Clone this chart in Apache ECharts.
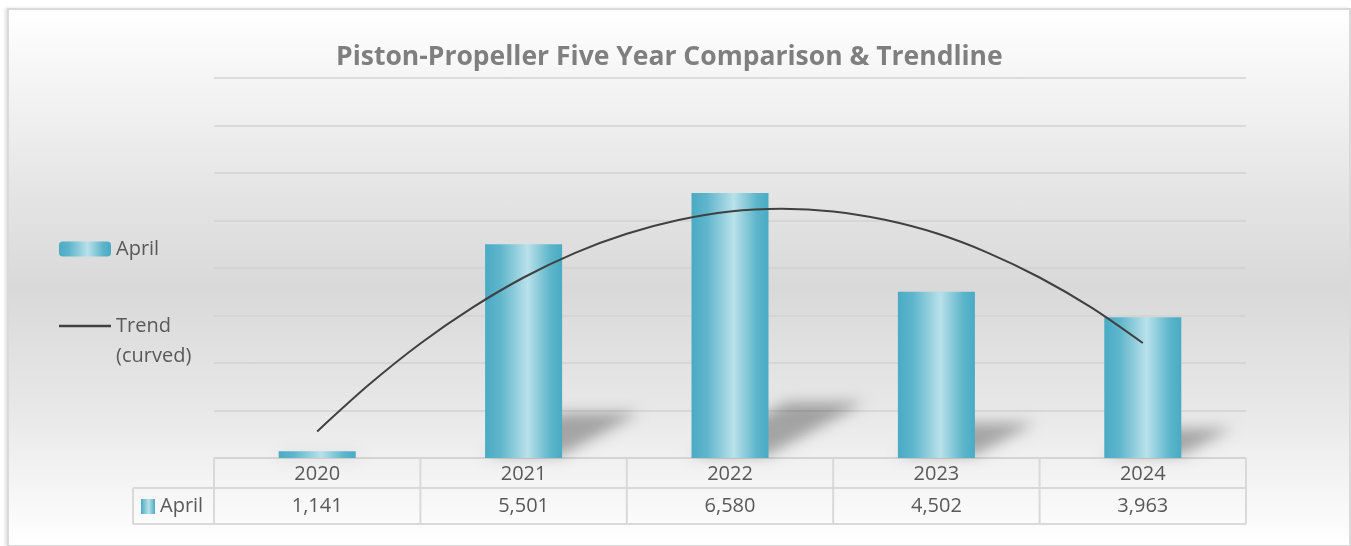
<!DOCTYPE html>
<html>
<head>
<meta charset="utf-8">
<script src="https://cdn.jsdelivr.net/npm/echarts@6/dist/echarts.min.js"></script>
<style>
  html, body { margin: 0; padding: 0; background: #ffffff; }
  .frame {
    position: absolute; left: 7px; top: 8px; width: 1340px; height: 535px;
    border: 2px solid #dadada;
    background: linear-gradient(to bottom, #ffffff 0%, #e4e4e4 35%, #d9d9d9 52%, #e8e8e8 75%, #ffffff 100%);
    box-shadow: -2px 0 3px rgba(0,0,0,0.12);
  }
  #chart { position: absolute; left: 0; top: 0; width: 1351px; height: 546px; }
</style>
</head>
<body>
<div class="frame"></div>
<div id="chart"></div>
<script>
const years = ['2020', '2021', '2022', '2023', '2024'];
const aprilValues = [1141, 5501, 6580, 4502, 3963];
// trendline (x: 1 = 2020 ... 5 = 2024)
const trendX = [1, 1.25, 1.5, 1.75, 2, 2.25, 2.5, 2.75, 3, 3.25, 3.5, 3.75, 4, 4.25, 4.5, 4.75, 5];
const trendValues = [1560, 2540, 3410, 4160, 4800, 5320, 5720, 6010, 6190, 6245, 6190, 6015, 5730, 5320, 4800, 4170, 3420];
const axisMin = 1000, axisMax = 9000, axisStep = 1000;

// plot / table layout (px)
const plotLeft = 214, plotRight = 1246, plotTop = 78, plotBottom = 458;
const rowMid = 488, tableBottom = 524, keyLeft = 133;
const textColor = '#595959';
const lineColor = '#d9d9d9';
const fontFamily = '"Open Sans", Lato, sans-serif';
const fontSize = 20;

const barGradient = new echarts.graphic.LinearGradient(0, 0, 1, 0, [
  { offset: 0, color: '#49abc4' },
  { offset: 0.2, color: '#5fb6cc' },
  { offset: 0.55, color: '#b9e1ea' },
  { offset: 0.85, color: '#5cb5cb' },
  { offset: 1, color: '#49abc4' }
]);

let chart = echarts.init(document.getElementById('chart'));

// table lines
let tableLines = [];
function hline(x1, x2, y) {
  tableLines.push({ type: 'line', shape: { x1: x1, y1: y, x2: x2, y2: y }, style: { stroke: lineColor, lineWidth: 2 }, silent: true });
}
function vline(x, y1, y2) {
  tableLines.push({ type: 'line', shape: { x1: x, y1: y1, x2: x, y2: y2 }, style: { stroke: lineColor, lineWidth: 2 }, silent: true });
}
hline(plotLeft, plotRight, plotBottom);
hline(keyLeft, plotRight, rowMid);
hline(keyLeft, plotRight, tableBottom);
vline(keyLeft, rowMid, tableBottom);
let catW = (plotRight - plotLeft) / years.length;
for (let i = 0; i <= years.length; i++) {
  vline(plotLeft + i * catW, plotBottom, tableBottom);
}
tableLines.push({
  type: 'rect', shape: { x: 141, y: 499, width: 14, height: 15 },
  style: { fill: new echarts.graphic.LinearGradient(0, 0, 1, 0, [
    { offset: 0, color: '#49abc4' }, { offset: 0.55, color: '#b9e1ea' }, { offset: 1, color: '#49abc4' }
  ]) }, silent: true
});
tableLines.push({
  type: 'text', x: 160, y: 506,
  style: { text: 'April', fill: textColor, fontSize: fontSize, fontFamily: fontFamily, verticalAlign: 'middle' },
  silent: true
});

let option = {
  animation: false,
  title: {
    text: 'Piston-Propeller Five Year Comparison & Trendline',
    left: 336,
    top: 44,
    padding: 0,
    textStyle: { color: '#7f7f7f', fontSize: 26.5, fontWeight: 'bold', fontFamily: fontFamily }
  },
  legend: [
    {
      data: ['April'],
      orient: 'vertical',
      left: 59, top: 239, padding: 0,
      itemWidth: 52, itemHeight: 15, itemGap: 0,
      textStyle: { color: textColor, fontSize: fontSize, fontFamily: fontFamily }
    },
    {
      data: [{ name: 'Trend (curved)', icon: 'rect' }],
      orient: 'vertical',
      left: 59, top: 281, padding: 0,
      itemWidth: 52, itemHeight: 2.5, itemGap: 0,
      formatter: name => ' \n' + name.replace(' ', '\n'),
      textStyle: { color: textColor, fontSize: fontSize, fontFamily: fontFamily, lineHeight: 30 }
    }
  ],
  grid: {
    left: plotLeft, right: 1351 - plotRight, top: plotTop, bottom: 546 - plotBottom
  },
  xAxis: [
    {
      type: 'category', data: years, position: 'bottom',
      axisLine: { show: false }, axisTick: { show: false },
      axisLabel: { color: textColor, fontSize: fontSize, fontFamily: fontFamily, margin: 6 }
    },
    {
      type: 'category', data: years, position: 'bottom', offset: 32,
      axisLine: { show: false }, axisTick: { show: false },
      axisLabel: {
        color: textColor, fontSize: fontSize, fontFamily: fontFamily, margin: 6,
        formatter: (val, idx) => aprilValues[idx].toLocaleString('en-US')
      }
    },
    {
      type: 'value', min: 0.5, max: 5.5, show: false
    }
  ],
  yAxis: {
    type: 'value', min: axisMin, max: axisMax, interval: axisStep,
    axisLabel: { show: false }, axisLine: { show: false }, axisTick: { show: false },
    splitLine: { lineStyle: { color: '#d2d2d2', width: 1.5 } }
  },
  graphic: tableLines,
  series: [
    {
      name: 'shadow',
      type: 'custom',
      z: 1,
      silent: true,
      clip: false,
      data: years.map((y, i) => [i, aprilValues[i]]),
      renderItem: function (params, api) {
        let top = api.coord([api.value(0), api.value(1)]);
        let base = api.coord([api.value(0), axisMin]);
        let h = base[1] - top[1];
        let xl = top[0] - 38.5, xr = top[0] + 38.5;
        let dx = 0.36 * h, dy = 0.21 * h;
        let off = 3000;
        // polygon drawn off-canvas, only its blurred shadow lands next to the bar
        return {
          type: 'polygon',
          shape: { points: [[xl + off, base[1] - 3], [xr + off, base[1] - 3], [xr + dx + off, base[1] - dy], [xl + dx + off, base[1] - dy]] },
          style: {
            fill: '#000',
            shadowBlur: 14, shadowColor: 'rgba(0,0,0,0.30)', shadowOffsetX: -off, shadowOffsetY: 0
          }
        };
      }
    },
    {
      name: 'April',
      type: 'bar',
      z: 2,
      barWidth: 77,
      data: aprilValues,
      itemStyle: { color: barGradient }
    },
    {
      name: 'Trend (curved)',
      type: 'line',
      xAxisIndex: 2,
      z: 3,
      smooth: 0.3,
      symbol: 'none',
      data: trendX.map((x, i) => [x, trendValues[i]]),
      lineStyle: { color: '#404040', width: 2 },
      itemStyle: { color: '#404040' }
    }
  ]
};
chart.setOption(option);
</script>
</body>
</html>
